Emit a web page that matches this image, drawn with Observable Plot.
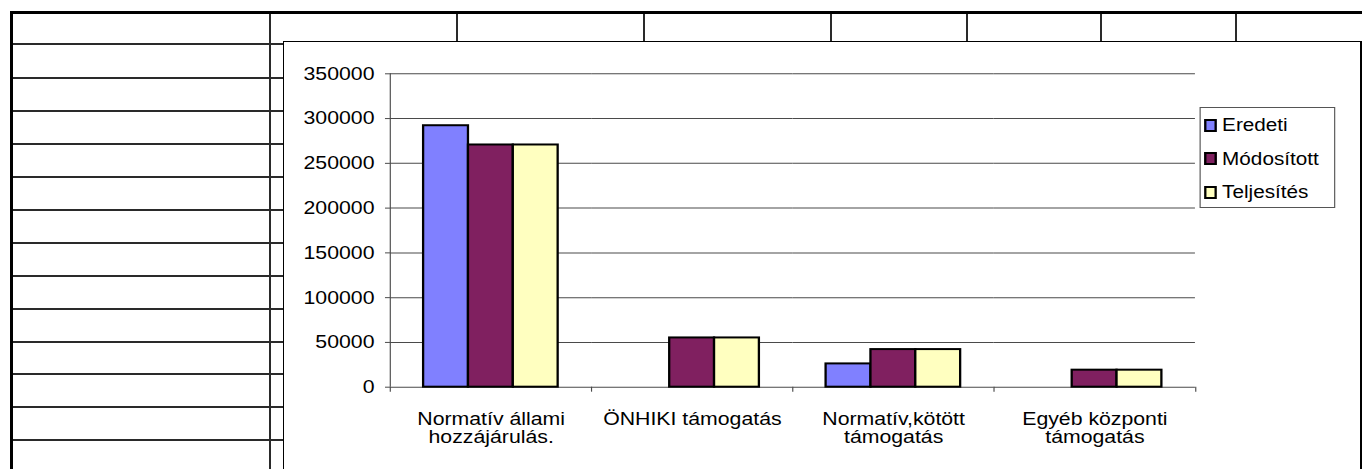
<!DOCTYPE html>
<html>
<head>
<meta charset="utf-8">
<script src="https://cdn.jsdelivr.net/npm/d3@7"></script>
<script src="https://cdn.jsdelivr.net/npm/@observablehq/plot@0.6"></script>
<style>
  html, body { margin: 0; padding: 0; background: #fff; }
  body { width: 1362px; height: 469px; position: relative; overflow: hidden;
         font-family: "Liberation Sans", Arial, sans-serif; }
  .ln { position: absolute; background: #2a2a2a; }
  #chart { position: absolute; left: 283px; top: 41px; width: 1078px; height: 440px;
           background: #fff; border: 1px solid #000; box-sizing: border-box; }
  #inner { position: absolute; left: -1px; top: -1px; transform-origin: 0 0; }
  #legend { position: absolute; background: #fff; border: 1px solid #555; box-sizing: border-box; }
  .item { position: absolute; display: flex; align-items: center; height: 20px;
          font-size: 18px; line-height: 1; color: #000; white-space: nowrap; }
  .sw { box-sizing: border-box; border: 2px solid #000; height: 13px; }
</style>
</head>
<body>
<div id="grid"></div>
<div id="chart"><div id="inner"></div></div>
<script>
// ---- chart data ----
const categories = [
  "Normatív állami hozzájárulás.",
  "ÖNHIKI támogatás",
  "Normatív,kötött támogatás",
  "Egyéb központi támogatás"
];
const categoryLabels = [
  "Normatív állami\nhozzájárulás.",
  "ÖNHIKI támogatás",
  "Normatív,kötött\ntámogatás",
  "Egyéb központi\ntámogatás"
];
const series = ["Eredeti", "Módosított", "Teljesítés"];
const eredeti    = [292000, null, 26000, null];
const modositott = [270500, 55000, 42000, 19000];
const teljesites = [270500, 55000, 42000, 19000];
const seriesColors = ["#8080ff", "#802060", "#ffffc0"];
const yTicks = [0, 50000, 100000, 150000, 200000, 250000, 300000, 350000];

// ---- spreadsheet background (decoration) ----
const rowLines = [44, 78, 111, 144, 177, 210, 243, 276, 309, 342, 374, 407, 440];
const topColLines = [457, 644, 831, 967, 1101, 1236];
const grid = document.getElementById("grid");
function line(x, y, w, h, color) {
  const d = document.createElement("div");
  d.className = "ln";
  Object.assign(d.style, {left: x + "px", top: y + "px", width: w + "px", height: h + "px"});
  if (color) d.style.background = color;
  grid.appendChild(d);
}
rowLines.forEach(y => line(13, y - 1, 1349, 2));
topColLines.forEach(x => line(x - 1, 14, 2, 28));
line(269, 14, 2, 455);
line(1361, 41, 1, 428, "#000");
line(10, 11, 1352, 3, "#000");
line(10, 11, 3, 458, "#000");

// ---- chart ----
const S = 1.15;                 // horizontal stretch of the original rendering
const W = 1077 / S, H = 428;
const mL = 106 / S, mR = W - 913 / S, mT = 32.3, mB = H - 345.7;
const bandW = (W - mL - mR) / categories.length;

const values = [eredeti, modositott, teljesites];
const rows = categories.flatMap((c, i) =>
  series.map((s, j) => ({category: c, series: s, value: values[j][i]}))
).filter(d => d.value != null);

const plot = Plot.plot({
  width: W, height: H,
  marginLeft: mL, marginRight: mR, marginTop: mT, marginBottom: mB,
  style: {fontFamily: "'Liberation Sans', Arial, sans-serif", fontSize: "18px", color: "#000", background: "transparent", overflow: "visible"},
  fx: {domain: categories, padding: 0},
  x: {domain: series, paddingInner: 0, paddingOuter: 0.742, axis: null},
  y: {domain: [0, 350000]},
  color: {domain: series, range: seriesColors},
  marks: [
    Plot.gridY(yTicks, {stroke: "#4a4a4a", strokeOpacity: 1}),
    Plot.gridFx({ticks: [categories[0]], dx: -bandW / 2, stroke: "#4a4a4a", strokeOpacity: 1}),
    Plot.axisY({ticks: yTicks, tickFormat: d => String(d), tickSize: 5 / S, tickPadding: 9.6,
                stroke: "#4a4a4a", fill: "#000", fontSize: 18.5, label: null}),
    Plot.axisFx({anchor: "bottom", tickSize: 5, tickFormat: () => "", dx: -bandW / 2, stroke: "#4a4a4a", label: null}),
    Plot.axisFx({anchor: "bottom", ticks: [categories[categories.length - 1]], tickSize: 5, tickFormat: () => "",
                 dx: bandW / 2, stroke: "#4a4a4a", label: null}),
    Plot.axisFx({anchor: "bottom", tickSize: 0, tickPadding: 24, fill: "#000", fontSize: 18.5, lineHeight: 1.02, label: null,
                 tickFormat: d => categoryLabels[categories.indexOf(d)]}),
    Plot.barY(rows, {fx: "category", x: "series", y: "value", fill: "series", stroke: "#000", strokeWidth: 2})
  ]
});

const inner = document.getElementById("inner");
inner.style.transform = `scaleX(${S})`;
inner.style.width = W + "px";
inner.style.height = H + "px";
inner.appendChild(plot);

// ---- legend ----
const legend = document.createElement("div");
legend.id = "legend";
Object.assign(legend.style, {left: (917 / S) + "px", top: "66px", width: (135 / S) + "px", height: "101px"});
series.forEach((s, i) => {
  const it = document.createElement("div");
  it.className = "item";
  it.style.left = (3 / S) + "px";
  it.style.top = (17 + 33.5 * i - 10) + "px";
  const sw = document.createElement("div");
  sw.className = "sw";
  sw.style.width = (13 / S) + "px";
  sw.style.background = seriesColors[i];
  const tx = document.createElement("span");
  tx.textContent = s;
  tx.style.marginLeft = (5 / S) + "px";
  it.appendChild(sw);
  it.appendChild(tx);
  legend.appendChild(it);
});
inner.appendChild(legend);
</script>
</body>
</html>
